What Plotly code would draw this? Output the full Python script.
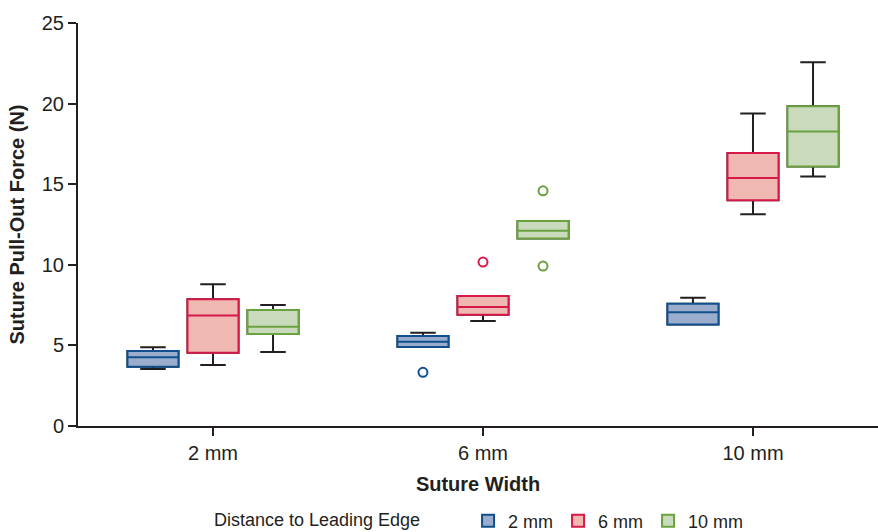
import plotly.graph_objects as go

categories = ["2 mm", "6 mm", "10 mm"]
series_names = ["2 mm", "6 mm", "10 mm"]

# Precomputed box statistics per series (one value per suture width category)
q1_vals = {
    "2 mm": [3.68, 4.90, 6.30],
    "6 mm": [4.55, 6.90, 14.01],
    "10 mm": [5.70, 11.63, 16.10],
}
median_vals = {
    "2 mm": [4.26, 5.23, 7.05],
    "6 mm": [6.86, 7.38, 15.39],
    "10 mm": [6.16, 12.11, 18.27],
}
q3_vals = {
    "2 mm": [4.65, 5.58, 7.58],
    "6 mm": [7.87, 8.06, 16.93],
    "10 mm": [7.19, 12.71, 19.84],
}
lower_vals = {
    "2 mm": [3.53, 4.90, 6.30],
    "6 mm": [3.78, 6.51, 13.14],
    "10 mm": [4.59, 11.63, 15.48],
}
upper_vals = {
    "2 mm": [4.88, 5.79, 7.96],
    "6 mm": [8.80, 8.06, 19.39],
    "10 mm": [7.50, 12.71, 22.57],
}
# outliers: (category, value)
outlier_x = {"2 mm": ["6 mm"], "6 mm": ["6 mm"], "10 mm": ["6 mm", "6 mm"]}
outlier_y = {"2 mm": [3.33], "6 mm": [10.17], "10 mm": [14.59, 9.92]}

line_colors = {"2 mm": "#11508c", "6 mm": "#d7194a", "10 mm": "#6aa23f"}
fill_colors = {"2 mm": "#9badcc", "6 mm": "#efb8b1", "10 mm": "#cadbbd"}
text_color = "#231f20"
FONT = "Liberation Sans, Arial, Helvetica, sans-serif"

fig = go.Figure()

for name in series_names:
    # whiskers (black) layer
    fig.add_trace(go.Box(
        x=categories,
        q1=q1_vals[name], median=median_vals[name], q3=q3_vals[name],
        lowerfence=lower_vals[name], upperfence=upper_vals[name],
        name=name, offsetgroup=name, legendgroup=name, showlegend=False,
        line=dict(color=text_color, width=2),
        fillcolor="rgba(0,0,0,0)",
        whiskerwidth=0.5,
        boxpoints=False,
        hoverinfo="skip",
    ))

for name in series_names:
    # colored box layer
    fig.add_trace(go.Box(
        x=categories,
        q1=q1_vals[name], median=median_vals[name], q3=q3_vals[name],
        lowerfence=q1_vals[name], upperfence=q3_vals[name],
        name=name, offsetgroup=name, legendgroup=name, showlegend=True,
        line=dict(color=line_colors[name], width=2),
        fillcolor=fill_colors[name],
        whiskerwidth=0,
        boxpoints=False,
    ))

for name in series_names:
    # outlier points (invisible box, visible points)
    fig.add_trace(go.Box(
        x=outlier_x[name], y=outlier_y[name],
        name=name, offsetgroup=name, legendgroup=name, showlegend=False,
        line=dict(color="rgba(0,0,0,0)", width=0),
        fillcolor="rgba(0,0,0,0)",
        whiskerwidth=0,
        boxpoints="all", pointpos=0, jitter=0,
        marker=dict(symbol="circle-open", color=line_colors[name], size=9,
                    line=dict(width=2, color=line_colors[name])),
    ))

fig.update_layout(
    width=878, height=532,
    margin=dict(l=78, r=0, t=23, b=106),
    paper_bgcolor="white", plot_bgcolor="white",
    boxmode="group", boxgap=0.333, boxgroupgap=0.15,
    font=dict(family=FONT, color=text_color, size=20),
    showlegend=True,
    legend=dict(
        orientation="h", x=0.503, xanchor="center",
        yref="container", y=0.0207, yanchor="middle",
        title=dict(text="Distance to Leading Edge" + "\u00a0" * 8, side="left",
                   font=dict(size=18, color=text_color)),
        font=dict(size=18, color=text_color),
        tracegroupgap=0,
    ),
    xaxis=dict(
        type="category", range=[-0.5, 2.463], automargin=False,
        showline=True, linecolor=text_color, linewidth=2,
        ticks="outside", ticklen=8, tickwidth=2, tickcolor=text_color,
        showgrid=False, zeroline=False,
        tickfont=dict(size=20),
        title=dict(text="<b>Suture Width</b>", font=dict(size=20), standoff=14),
    ),
    yaxis=dict(
        range=[0, 25], tickvals=[0, 5, 10, 15, 20, 25], automargin=False,
        showline=True, linecolor=text_color, linewidth=2,
        ticks="outside", ticklen=8, tickwidth=2, tickcolor=text_color,
        showgrid=False, zeroline=False,
        tickfont=dict(size=20),
        title=dict(text="<b>Suture Pull-Out Force (N)</b>", font=dict(size=20), standoff=12),
    ),
)

fig.write_html(
    "out.html",
    config={"displayModeBar": False},
    post_script="document.body.style.margin='0';document.body.style.overflow='hidden';",
)
